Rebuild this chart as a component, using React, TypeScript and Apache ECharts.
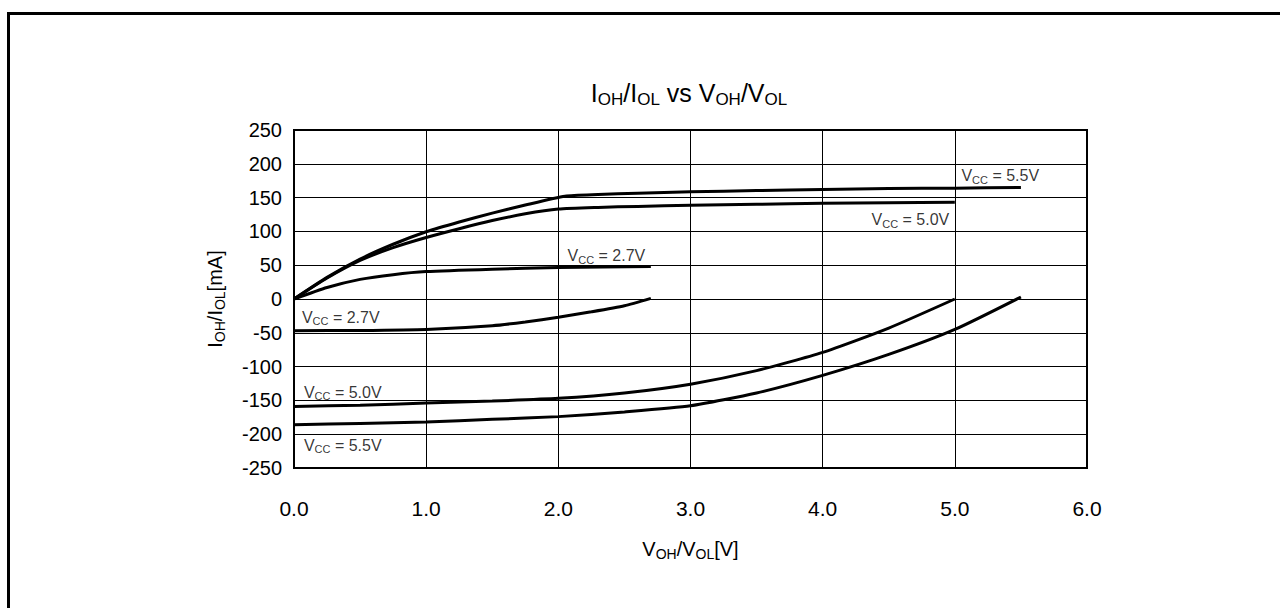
import React, { useEffect, useRef } from "react";
import * as echarts from "echarts";

const FONT = '"Liberation Sans", Arial, sans-serif';

// Output low (IOL, positive) curves: [VOL, IOL]
const iol55 = [[0, 0], [0.25, 32], [0.5, 59], [0.75, 81], [1, 99.5], [1.25, 114], [1.5, 127], [1.75, 139], [2.05, 152], [2.3, 154.5], [2.6, 156.5], [3, 158.5], [3.5, 160.5], [4, 162], [4.5, 163.3], [5, 164], [5.5, 165]];
const iol50 = [[0, 0], [0.25, 31], [0.5, 57], [0.75, 76], [1, 91], [1.25, 104], [1.5, 116], [1.75, 126], [2, 133], [2.3, 135.5], [2.6, 137], [3, 138.6], [3.5, 140], [4, 141.5], [4.5, 142.5], [5, 143]];
const iol27 = [[0, 0], [0.25, 17], [0.5, 29], [0.75, 36], [1, 40.5], [1.5, 44], [2, 46.5], [2.7, 48]];
// Output high (IOH, negative) curves: [VOH, IOH]
const ioh27 = [[0, -47], [0.5, -46.5], [1, -45], [1.5, -39.5], [1.75, -34], [2, -27], [2.25, -19], [2.5, -10], [2.7, 1]];
const ioh50 = [[0, -159], [0.5, -157], [1, -154], [1.5, -151], [2, -147], [2.5, -139], [3, -126], [3.5, -106], [4, -79], [4.5, -43], [5, 0]];
const ioh55 = [[0, -186], [0.5, -184], [1, -182], [1.5, -178], [2, -174], [2.5, -167], [3, -158], [3.5, -139], [4, -113], [4.5, -82], [5, -45], [5.5, 3]];

const seriesData = [iol55, iol50, iol27, ioh27, ioh50, ioh55];

// Curve annotations: [x, y, supply voltage]
const labels: [number, number, string][] = [
  [5.05, 182, "5.5V"],
  [4.37, 117, "5.0V"],
  [2.07, 64, "2.7V"],
  [0.06, -27, "2.7V"],
  [0.075, -138, "5.0V"],
  [0.075, -216, "5.5V"],
];

const xMin = 0, xMax = 6, xStep = 1;
const yMin = -250, yMax = 250, yStep = 50;

export default function App() {
  const ref = useRef<HTMLDivElement>(null);
  useEffect(() => {
    if (!ref.current) return;
    const chart = echarts.init(ref.current, undefined, { renderer: "svg" });
    const subRich = {
      v: { fontFamily: FONT, fontSize: 20, lineHeight: 24, color: "#000" },
      s: { fontFamily: FONT, fontSize: 14, lineHeight: 14, verticalAlign: "bottom", color: "#000" },
    };
    chart.setOption({
      animation: false,
      backgroundColor: "#fff",
      grid: { left: 294, right: 193, top: 130, bottom: 140, show: true, borderColor: "#000", borderWidth: 2, backgroundColor: "transparent" },
      xAxis: {
        type: "value", min: xMin, max: xMax, interval: xStep,
        axisLine: { show: false }, axisTick: { show: false },
        splitLine: { show: true, lineStyle: { color: "#000", width: 1 } },
        axisLabel: { margin: 30, fontFamily: FONT, fontSize: 21, color: "#000", formatter: (v: number) => v.toFixed(1) },
        name: "{v|V}{s|OH}{v|/V}{s|OL}{v|[V]}", nameLocation: "middle", nameGap: 69,
        nameTextStyle: { rich: subRich },
      },
      yAxis: {
        type: "value", min: yMin, max: yMax, interval: yStep,
        axisLine: { show: false }, axisTick: { show: false },
        splitLine: { show: true, lineStyle: { color: "#000", width: 1 } },
        axisLabel: { margin: 12, fontFamily: FONT, fontSize: 20, color: "#000" },
        name: "{v|I}{s|OH}{v|/I}{s|OL}{v|[mA]}", nameLocation: "middle", nameGap: 67,
        nameTextStyle: { rich: subRich },
      },
      graphic: [
        { type: "rect", shape: { x: 8.5, y: 13.5, width: 1400, height: 800 }, style: { fill: "none", stroke: "#000", lineWidth: 3 }, silent: true },
        {
          type: "text", x: 689, y: 93,
          style: {
            text: "{v|I}{s|OH}{v|/I}{s|OL}{v| vs V}{s|OH}{v|/V}{s|OL}",
            align: "center", verticalAlign: "middle",
            rich: {
              v: { fontFamily: FONT, fontSize: 25, lineHeight: 29, fill: "#000" },
              s: { fontFamily: FONT, fontSize: 17, lineHeight: 17, verticalAlign: "bottom", fill: "#000" },
            },
          },
        },
      ],
      series: [
        ...seriesData.map((d) => ({
          type: "line", data: d, showSymbol: false, smooth: 0.2,
          lineStyle: { color: "#000", width: 3 }, silent: true,
        })),
        {
          type: "scatter", symbolSize: 0, silent: true,
          data: labels.map(([x, y, t]) => ({ value: [x, y], name: t })),
          label: {
            show: true, position: "right", distance: 0,
            formatter: (p: any) => `{v|V}{s|CC}{v| = ${p.name}}`,
            rich: {
              v: { fontFamily: FONT, fontSize: 16, lineHeight: 19, color: "#000" },
              s: { fontFamily: FONT, fontSize: 11, lineHeight: 11, verticalAlign: "bottom", color: "#000" },
            },
          },
        },
      ],
    });
    return () => chart.dispose();
  }, []);
  return <div ref={ref} style={{ position: "fixed", left: 0, top: 0, width: 1280, height: 608 }} />;
}
